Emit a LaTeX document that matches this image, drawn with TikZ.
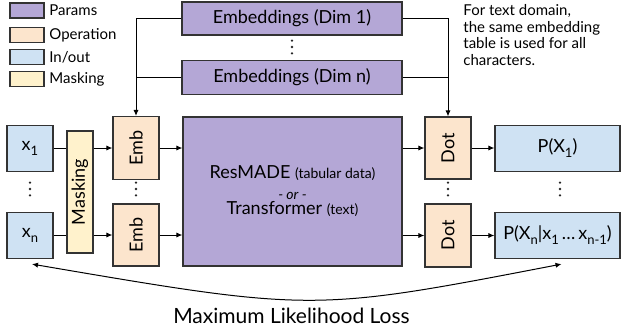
\documentclass[tikz,border=0pt]{standalone}
\usepackage{fontspec}
\setmainfont{Lato}
\usepackage{graphicx}
\usetikzlibrary{arrows.meta}
\definecolor{prmcol}{HTML}{B4A7D6}
\definecolor{oprcol}{HTML}{FCE5CD}
\definecolor{iocol}{HTML}{CFE2F3}
\definecolor{mskcol}{HTML}{FFF2CC}
\newcommand\lowsub[1]{\raisebox{-0.55ex}{\fontsize{6.5}{7}\selectfont#1}}
\begin{document}
\begin{tikzpicture}[x=0.5pt,y=-0.5pt,
  box/.style={draw=black!80,line width=0.6pt,inner sep=0pt,align=center,font=\fontsize{9}{10.5}\selectfont},
  prm/.style={box,fill=prmcol},opr/.style={box,fill=oprcol},inout/.style={box,fill=iocol},msk/.style={box,fill=mskcol},
  swatch/.style={box,minimum width=17pt,minimum height=7.5pt},
  legtext/.style={anchor=west,inner sep=0pt,font=\fontsize{7.5}{8}\selectfont},
  vdot/.style={inner sep=0pt,minimum width=3pt,minimum height=9pt,path picture={\fill[black!85] (path picture bounding box.center) circle (0.65pt) ++(0pt,3.2pt) circle (0.65pt) ++(0pt,-6.4pt) circle (0.65pt);}},
  arr/.style={-{Latex[length=3pt,width=2.6pt]},line width=0.5pt}]
\useasboundingbox (0,0) rectangle (626,334);
\node[swatch,fill=prmcol] (l1) at (27,10.5) {};  \node[legtext] (t1) at (49,10.5) {Params};
\node[swatch,fill=oprcol] (l2) at (27,35) {};    \node[legtext] (t2) at (49,35) {Operation};
\node[swatch,fill=iocol] (l3) at (27,57) {};     \node[legtext] (t3) at (49,57) {In/out};
\node[swatch,fill=mskcol] (l4) at (27,79) {};    \node[legtext] (t4) at (49,79) {Masking};
\node[prm,minimum width=110pt,minimum height=16.5pt] (g1) at (292,18.5) {Embeddings (Dim 1)};
\node[vdot] (gv) at (292,47) {};
\node[prm,minimum width=110pt,minimum height=17pt] (gn) at (292,77.5) {Embeddings (Dim n)};
\node[anchor=north west,align=left,inner sep=0pt,font=\fontsize{7.5}{8.3}\selectfont] (note) at (463,4) {For text domain,\\the same embedding\\table is used for all\\characters.};
\node[inout,minimum width=23pt,minimum height=23pt] (x1) at (30,148.5) {x\lowsub{1}};
\node[vdot] (xv) at (30,189) {};
\node[inout,minimum width=23pt,minimum height=23pt] (xn) at (30,235.5) {x\lowsub{n}};
\node[msk,minimum width=13pt,minimum height=61pt] (m) at (80,192) {\rotatebox{90}{Masking}};
\node[opr,minimum width=23pt,minimum height=31.5pt] (e1) at (136,148) {\rotatebox{90}{Emb}};
\node[vdot] (ev) at (136,189) {};
\node[opr,minimum width=23pt,minimum height=31pt] (en) at (136,235) {\rotatebox{90}{Emb}};
\node[prm,minimum width=109.5pt,minimum height=74.5pt] (r) at (292.5,191.5) {ResMADE {\fontsize{7}{8}\selectfont(tabular data)}\\{\fontsize{7}{8}\selectfont\itshape - or -}\\[-3pt]Transformer {\fontsize{7}{8}\selectfont(text)}};
\node[opr,minimum width=23pt,minimum height=31pt] (d1) at (448,148) {\rotatebox{90}{Dot}};
\node[vdot] (dv) at (448,189) {};
\node[opr,minimum width=23pt,minimum height=31.5pt] (dn) at (448,235.5) {\rotatebox{90}{Dot}};
\node[inout,minimum width=62.5pt,minimum height=23pt] (p1) at (557.5,148.5) {P(X\lowsub{1})};
\node[vdot] (pv) at (560,189) {};
\node[inout,minimum width=62.5pt,minimum height=23pt] (pn) at (557.5,235.5) {P(X\lowsub{n}|x\lowsub{1}\,…\,x\lowsub{n-1})};
\draw[arr] (g1.west) -| (e1.north);
\draw[line width=0.5pt] (gn.west) -- (gn.west -| e1.north);
\draw[arr] (g1.east) -| (d1.north);
\draw[line width=0.5pt] (gn.east) -- (gn.east -| d1.north);
\draw[line width=0.5pt] (x1) -- (x1 -| m.west);
\draw[line width=0.5pt] (xn) -- (xn -| m.west);
\draw[arr] (m.east |- e1) -- (e1);
\draw[arr] (m.east |- en) -- (en);
\draw[arr] (e1) -- (e1 -| r.west);
\draw[arr] (en) -- (en -| r.west);
\draw[arr] (r.east |- d1) -- (d1);
\draw[arr] (r.east |- dn) -- (dn);
\draw[arr] (d1) -- (d1 -| p1.west);
\draw[arr] (dn) -- (dn -| pn.west);
\coordinate (la) at ([xshift=1pt,yshift=-2.5pt]xn.south);
\coordinate (lb) at ([xshift=2pt,yshift=-2.5pt]pn.south);
\draw[{Latex[length=3pt,width=2.6pt]}-{Latex[length=3pt,width=2.6pt]},line width=0.5pt] (la) .. controls (313,312) .. (lb);
\node[font=\fontsize{10.5}{12}\selectfont] (loss) at (291.5,316) {Maximum Likelihood Loss};
\end{tikzpicture}
\end{document}
